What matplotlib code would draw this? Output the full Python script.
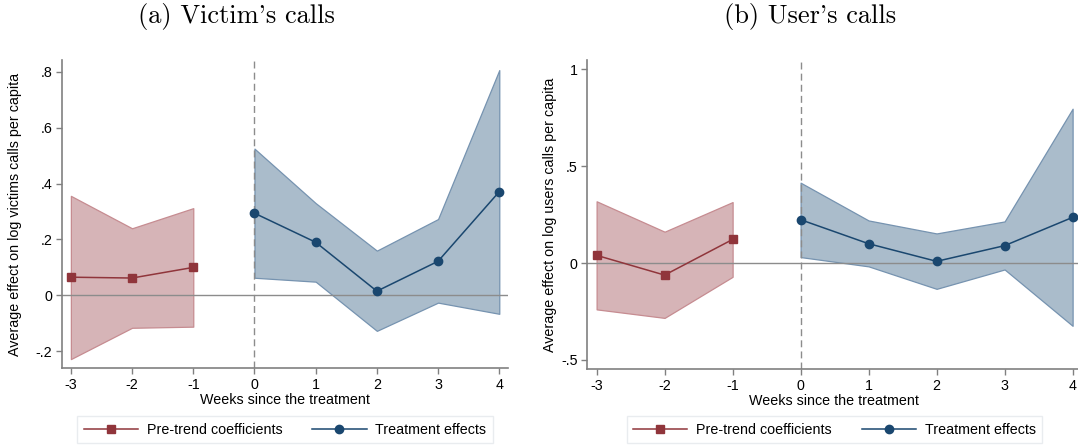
import matplotlib
matplotlib.use("Agg")
import matplotlib.pyplot as plt

plt.rcParams["font.family"] = ["Liberation Sans", "DejaVu Sans"]

# Data
pre_weeks = [-3, -2, -1]
post_weeks = [0, 1, 2, 3, 4]
week_ticks = [-3, -2, -1, 0, 1, 2, 3, 4]

# (a) Victim's calls
victim_pre = [0.065, 0.062, 0.100]
victim_pre_lo = [-0.228, -0.116, -0.112]
victim_pre_hi = [0.356, 0.240, 0.312]
victim_post = [0.294, 0.190, 0.015, 0.122, 0.371]
victim_post_lo = [0.063, 0.049, -0.127, -0.026, -0.066]
victim_post_hi = [0.525, 0.330, 0.160, 0.273, 0.806]
victim_yticks = [-0.2, 0, 0.2, 0.4, 0.6, 0.8]
victim_ylabels = ["-.2", "0", ".2", ".4", ".6", ".8"]

# (b) User's calls
user_pre = [0.040, -0.062, 0.122]
user_pre_lo = [-0.239, -0.283, -0.071]
user_pre_hi = [0.319, 0.162, 0.315]
user_post = [0.224, 0.100, 0.009, 0.090, 0.236]
user_post_lo = [0.031, -0.017, -0.133, -0.033, -0.324]
user_post_hi = [0.415, 0.220, 0.153, 0.215, 0.797]
user_yticks = [-0.5, 0, 0.5, 1]
user_ylabels = ["-.5", "0", ".5", "1"]

red = "#90353b"
red_fill = "#d6b4b7"
red_edge = "#c68c91"
blue = "#1a476f"
blue_fill = "#aabccb"
blue_edge = "#7693b0"
axis_gray = "#808080"
fs = 10.3

fig = plt.figure(figsize=(10.78, 4.46), dpi=100)
ax1 = fig.add_axes([0.0574, 0.1742, 0.4137, 0.6906])
# the right panel runs a few pixels past the figure edge, as in the reference
ax2 = fig.add_axes([0.5448, 0.1726, 0.4584, 0.6922])


def draw_panel(ax, pre, pre_lo, pre_hi, post, post_lo, post_hi,
               yticks, ylabels, ylim, xlim, ylabel, ylabel_x):
    ax.fill_between(pre_weeks, pre_lo, pre_hi, facecolor=red_fill,
                    edgecolor=red_edge, linewidth=0.9, zorder=1)
    ax.fill_between(post_weeks, post_lo, post_hi, facecolor=blue_fill,
                    edgecolor=blue_edge, linewidth=0.9, zorder=1)
    ax.axhline(0, color="#8c8c8c", linewidth=1.0, zorder=2)
    ax.axvline(0, color="#8c8c8c", linewidth=1.0, linestyle=(0, (5, 3)), zorder=2)
    ax.plot(pre_weeks, pre, color=red, linewidth=1.1, marker="s",
            markersize=6, zorder=3, label="Pre-trend coefficients")
    ax.plot(post_weeks, post, color=blue, linewidth=1.1, marker="o",
            markersize=6, zorder=3, label="Treatment effects")

    ax.set_xlim(*xlim)
    ax.set_ylim(*ylim)
    ax.set_xticks(week_ticks)
    ax.set_xticklabels([str(w) for w in week_ticks])
    ax.set_yticks(yticks)
    ax.set_yticklabels(ylabels)
    ax.tick_params(axis="both", direction="out", length=4, width=1,
                   color=axis_gray, labelsize=fs, pad=3)
    for side in ["top", "right"]:
        ax.spines[side].set_visible(False)
    for side in ["left", "bottom"]:
        ax.spines[side].set_color(axis_gray)
        ax.spines[side].set_linewidth(1.2)
    ax.set_xlabel("Weeks since the treatment", fontsize=fs, labelpad=1)
    ax.set_ylabel(ylabel, fontsize=fs)
    ax.yaxis.set_label_coords(ylabel_x, 0.5)


draw_panel(ax1, victim_pre, victim_pre_lo, victim_pre_hi,
           victim_post, victim_post_lo, victim_post_hi,
           victim_yticks, victim_ylabels, (-0.261, 0.841), (-3.147, 4.14),
           "Average effect on log victims calls per capita", -0.09)
draw_panel(ax2, user_pre, user_pre_lo, user_pre_hi,
           user_post, user_post_lo, user_post_hi,
           user_yticks, user_ylabels, (-0.547, 1.047), (-3.137, 4.13),
           "Average effect on log users calls per capita", -0.062)

# titles in a Computer Modern style serif
fig.text(0.2195, 0.9626, "(a) Victim's calls", family="cmr10",
         fontsize=19, ha="center", va="center")
fig.text(0.7514, 0.9626, "(b) User's calls", family="cmr10",
         fontsize=19, ha="center", va="center")

# legends below each panel, centred on the axes
for ax, cx in [(ax1, 0.2643), (ax2, 0.774)]:
    leg = ax.legend(loc="center", bbox_to_anchor=(cx, 0.0366),
                    bbox_transform=fig.transFigure, ncol=2, fontsize=fs,
                    frameon=True, fancybox=False, handlelength=3.8,
                    handletextpad=0.6, columnspacing=2.1, borderpad=0.45)
    leg.get_frame().set_edgecolor("#e4e8ec")
    leg.get_frame().set_linewidth(1.0)

plt.savefig("out.png", dpi=100)
